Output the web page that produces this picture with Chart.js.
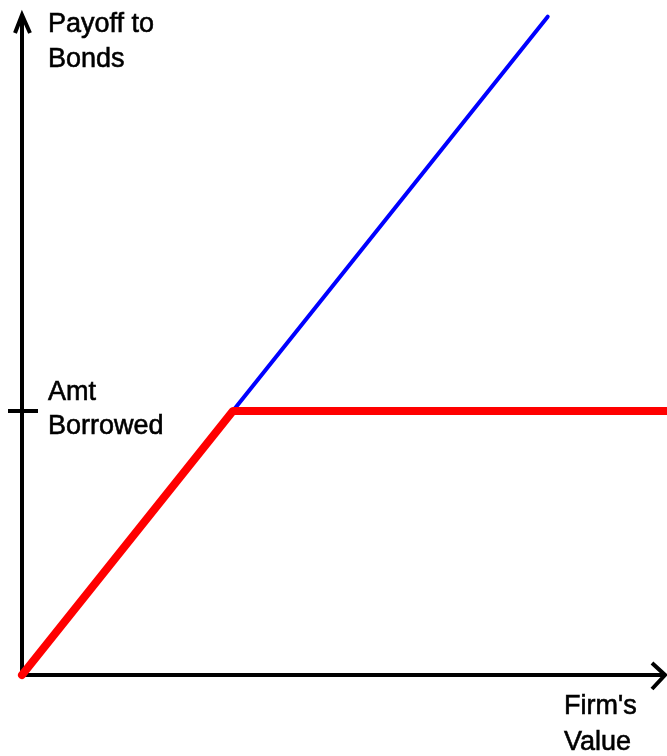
<!DOCTYPE html>
<html>
<head>
<meta charset="utf-8">
<script src="https://cdn.jsdelivr.net/npm/chart.js@4.4.1/dist/chart.umd.min.js"></script>
<style>
  html, body { margin: 0; padding: 0; background: #fff; }
  #wrap { width: 667px; height: 756px; position: relative; }
</style>
</head>
<body>
<div id="wrap"><canvas id="payoff_chart"></canvas></div>
<script>
// Payoff to bonds vs firm's value
var amtBorrowed = 39.7;

// red: bond payoff = min(firm value, amount borrowed)
var bondX = [0, 32.7, 100];
var bondY = [0, amtBorrowed, amtBorrowed];

// blue: firm value line continuing above the kink
var firmX = [0, 81.5];
var firmY = [0, 99];

var yTickValues = [amtBorrowed];

function toPoints(xs, ys) {
    return xs.map(function (x, i) { return { x: x, y: ys[i] }; });
}

// axes, arrows, tick and text labels
var axesPlugin = {
    id: 'axesPlugin',
    beforeDatasetsDraw: function (chart) {
        var ctx = chart.ctx;
        var xs = chart.scales.x, ys = chart.scales.y;
        var x0 = xs.getPixelForValue(0), y0 = ys.getPixelForValue(0);
        var top = ys.getPixelForValue(ys.max) + 3;
        var right = xs.getPixelForValue(xs.max);

        ctx.save();
        ctx.strokeStyle = '#000';
        ctx.lineWidth = 4;
        ctx.lineCap = 'butt';
        ctx.lineJoin = 'miter';

        // y axis
        ctx.beginPath();
        ctx.moveTo(x0, y0 + 2);
        ctx.lineTo(x0, top + 2);
        ctx.stroke();
        ctx.beginPath();
        ctx.moveTo(x0 - 7, top + 20);
        ctx.lineTo(x0, top + 2);
        ctx.lineTo(x0 + 8, top + 20);
        ctx.stroke();

        // x axis
        ctx.beginPath();
        ctx.moveTo(x0 - 2, y0);
        ctx.lineTo(right - 2, y0);
        ctx.stroke();
        ctx.beginPath();
        ctx.moveTo(right - 15, y0 - 12);
        ctx.lineTo(right - 2, y0);
        ctx.lineTo(right - 15, y0 + 14);
        ctx.stroke();

        // tick marks on y axis
        yTickValues.forEach(function (v) {
            var py = ys.getPixelForValue(v);
            ctx.beginPath();
            ctx.moveTo(x0 - 14, py);
            ctx.lineTo(x0 + 16, py);
            ctx.stroke();
        });
        ctx.restore();
    },
    afterDraw: function (chart) {
        var ctx = chart.ctx;
        var xs = chart.scales.x, ys = chart.scales.y;
        var x0 = xs.getPixelForValue(0), y0 = ys.getPixelForValue(0);
        var top = ys.getPixelForValue(ys.max);
        var tickY = ys.getPixelForValue(amtBorrowed);

        var labels = [
            ['Payoff to', x0 + 26, top + 22],
            ['Bonds', x0 + 26, top + 57],
            ['Amt', x0 + 26, tickY - 11],
            ['Borrowed', x0 + 26, tickY + 23],
            ["Firm's", 564, y0 + 39],
            ['Value', 564, y0 + 75]
        ];

        ctx.save();
        ctx.fillStyle = '#000';
        ctx.strokeStyle = '#000';
        ctx.lineWidth = 0.6;
        ctx.font = '27px "Liberation Sans", Arial, sans-serif';
        ctx.textAlign = 'left';
        ctx.textBaseline = 'alphabetic';
        labels.forEach(function (l) {
            ctx.fillText(l[0], l[1], l[2]);
            ctx.strokeText(l[0], l[1], l[2]);
        });
        ctx.restore();
    }
};

var ctx = document.getElementById('payoff_chart').getContext('2d');
var payoffChart = new Chart(ctx, {
    type: 'scatter',
    data: {
        datasets: [{
            label: 'Payoff to Bonds',
            data: toPoints(bondX, bondY),
            showLine: true,
            borderColor: '#ff0000',
            backgroundColor: '#ff0000',
            borderWidth: 8,
            borderJoinStyle: 'round',
            borderCapStyle: 'round',
            pointRadius: 0,
            clip: false
        }, {
            label: "Firm's Value",
            data: toPoints(firmX, firmY),
            showLine: true,
            borderColor: '#0000ff',
            backgroundColor: '#0000ff',
            borderWidth: 4,
            borderCapStyle: 'round',
            pointRadius: 0,
            clip: false
        }]
    },
    options: {
        responsive: true,
        maintainAspectRatio: false,
        animation: false,
        layout: {
            padding: { left: 22, right: 0, top: 10, bottom: 81 }
        },
        scales: {
            x: { type: 'linear', min: 0, max: 100, display: false },
            y: { type: 'linear', min: 0, max: 100, display: false }
        },
        plugins: {
            legend: { display: false },
            tooltip: { enabled: false }
        },
        events: []
    },
    plugins: [axesPlugin]
});
</script>
</body>
</html>
